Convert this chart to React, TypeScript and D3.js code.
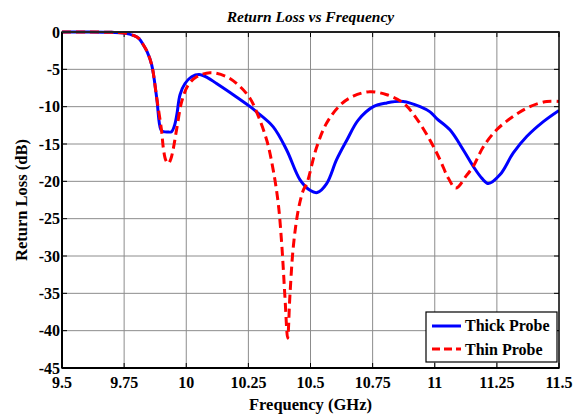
import React from "react";
import * as d3 from "d3";

const xTicks = [9.5, 9.75, 10, 10.25, 10.5, 10.75, 11, 11.25, 11.5];
const yTicks = [0, -5, -10, -15, -20, -25, -30, -35, -40, -45];

const thickFreq = [9.5, 9.6, 9.7, 9.75, 9.79, 9.81, 9.827, 9.842, 9.861, 9.881, 9.898, 9.908, 9.925, 9.941, 9.952, 9.962, 9.975, 9.995, 10.022, 10.052, 10.085, 10.122, 10.189, 10.257, 10.283, 10.35, 10.404, 10.458, 10.498, 10.527, 10.565, 10.605, 10.646, 10.692, 10.753, 10.807, 10.873, 10.941, 10.981, 11.008, 11.061, 11.115, 11.155, 11.19, 11.216, 11.263, 11.316, 11.37, 11.437, 11.5];
const thickDb = [0, 0, -0.05, -0.15, -0.5, -0.9, -1.7, -2.6, -4.4, -8.8, -13.1, -13.35, -13.4, -13.35, -12.6, -11.1, -8.4, -6.9, -6.0, -5.7, -6.1, -6.9, -8.4, -10.0, -10.7, -12.7, -15.8, -19.8, -21.2, -21.5, -20.3, -17.1, -14.5, -11.8, -10.0, -9.5, -9.3, -10.0, -10.7, -11.6, -13.1, -15.8, -18.0, -19.6, -20.3, -19.1, -16.2, -14.0, -12.0, -10.5];

const thinFreq = [9.5, 9.6, 9.7, 9.75, 9.79, 9.81, 9.827, 9.842, 9.861, 9.881, 9.901, 9.908, 9.918, 9.928, 9.938, 9.948, 9.964, 9.982, 10.008, 10.042, 10.096, 10.163, 10.216, 10.257, 10.283, 10.324, 10.35, 10.37, 10.384, 10.397, 10.408, 10.417, 10.431, 10.451, 10.471, 10.485, 10.525, 10.565, 10.619, 10.672, 10.739, 10.807, 10.873, 10.927, 10.981, 11.021, 11.055, 11.085, 11.128, 11.155, 11.195, 11.249, 11.316, 11.383, 11.451, 11.5];
const thinDb = [0, 0, -0.05, -0.15, -0.5, -0.9, -1.7, -2.6, -4.4, -8.8, -13.3, -15.6, -17.2, -17.6, -17.0, -15.6, -12.5, -9.3, -7.1, -6.0, -5.45, -6.0, -7.3, -8.9, -10.7, -14.5, -18.5, -22.9, -28.3, -35.4, -41.0, -35.4, -28.7, -23.8, -21.2, -20.3, -15.4, -12.2, -9.8, -8.6, -8.0, -8.4, -9.5, -11.6, -14.5, -17.1, -19.6, -20.9, -19.2, -18.0, -15.4, -13.1, -11.3, -10.0, -9.3, -9.3];

const W = 579;
const H = 417;
const margin = { left: 62, top: 32, right: 20, bottom: 49 };
const font = "'Liberation Serif', 'Times New Roman', serif";

export default function App() {
  const x = d3.scaleLinear().domain([9.5, 11.5]).range([margin.left, W - margin.right]);
  const y = d3.scaleLinear().domain([-45, 0]).range([H - margin.bottom, margin.top]);
  const line = d3
    .line<[number, number]>()
    .x((d) => x(d[0]))
    .y((d) => y(d[1]))
    .curve(d3.curveCatmullRom.alpha(0.5));
  const thick = line(thickFreq.map((f, i) => [f, thickDb[i]]) as [number, number][]) || "";
  const thin = line(thinFreq.map((f, i) => [f, thinDb[i]]) as [number, number][]) || "";
  const x0 = x(9.5), x1 = x(11.5), y0 = y(-45), y1 = y(0);
  const lgX = 426, lgY = 312, lgW = 131, lgH = 50;

  return (
    <svg width={W} height={H} style={{ position: "absolute", left: 0, top: 0, background: "#fff" }}>
      <rect x={0} y={0} width={W} height={H} fill="#fff" />
      <defs>
        <clipPath id="plot">
          <rect x={x0} y={y1 - 2} width={x1 - x0} height={y0 - y1 + 2} />
        </clipPath>
      </defs>
      {/* grid */}
      {xTicks.slice(1, -1).map((t) => (
        <line key={"gx" + t} x1={x(t)} x2={x(t)} y1={y1} y2={y0} stroke="#8c8c8c" strokeWidth={1} />
      ))}
      {yTicks.slice(1, -1).map((t) => (
        <line key={"gy" + t} x1={x0} x2={x1} y1={y(t)} y2={y(t)} stroke="#8c8c8c" strokeWidth={1} />
      ))}
      {/* ticks */}
      {xTicks.map((t) => (
        <g key={"tx" + t}>
          <line x1={x(t)} x2={x(t)} y1={y0} y2={y0 - 5} stroke="#000" strokeWidth={1} />
          <line x1={x(t)} x2={x(t)} y1={y1} y2={y1 + 5} stroke="#000" strokeWidth={1} />
          <text x={x(t)} y={y0 + 20} textAnchor="middle" fontFamily={font} fontWeight="bold" fontSize={16}>
            {t}
          </text>
        </g>
      ))}
      {yTicks.map((t) => (
        <g key={"ty" + t}>
          <line x1={x0} x2={x0 + 5} y1={y(t)} y2={y(t)} stroke="#000" strokeWidth={1} />
          <line x1={x1} x2={x1 - 5} y1={y(t)} y2={y(t)} stroke="#000" strokeWidth={1} />
          <text x={x0 - 2} y={y(t) + 5.5} textAnchor="end" fontFamily={font} fontWeight="bold" fontSize={16}>
            {t}
          </text>
        </g>
      ))}
      {/* curves */}
      <g clipPath="url(#plot)">
        <path d={thick} fill="none" stroke="#0000ff" strokeWidth={3} strokeLinejoin="round" />
        <path d={thin} fill="none" stroke="#ff0000" strokeWidth={3} strokeDasharray="9,5" />
      </g>
      {/* frame */}
      <rect x={x0} y={y1} width={x1 - x0} height={y0 - y1} fill="none" stroke="#000" strokeWidth={1.5} />
      <line x1={x0} x2={x0} y1={y1} y2={y0} stroke="#000" strokeWidth={2} />
      <line x1={x0} x2={x1} y1={y0} y2={y0} stroke="#000" strokeWidth={2} />
      <line x1={x0} x2={x1} y1={y1} y2={y1} stroke="#222" strokeWidth={2} />
      {/* title */}
      <text x={(x0 + x1) / 2} y={22} textAnchor="middle" fontFamily={font} fontWeight="bold" fontStyle="italic" fontSize={15.5}>
        Return Loss vs Frequency
      </text>
      <text x={(x0 + x1) / 2} y={410} textAnchor="middle" fontFamily={font} fontWeight="bold" fontSize={16.5}>
        Frequency (GHz)
      </text>
      <text
        transform={`translate(27, ${(y0 + y1) / 2}) rotate(-90)`}
        textAnchor="middle"
        fontFamily={font}
        fontWeight="bold"
        fontSize={16.5}
      >
        Return Loss (dB)
      </text>
      {/* legend */}
      <rect x={lgX} y={lgY} width={lgW} height={lgH} fill="#fff" stroke="#000" strokeWidth={1.2} />
      <line x1={lgX + 6} x2={lgX + 35} y1={lgY + 14} y2={lgY + 14} stroke="#0000ff" strokeWidth={3} />
      <line x1={lgX + 6} x2={lgX + 35} y1={lgY + 37} y2={lgY + 37} stroke="#ff0000" strokeWidth={3} strokeDasharray="8,4" />
      <text x={lgX + 39} y={lgY + 19} fontFamily={font} fontWeight="bold" fontSize={16}>
        Thick Probe
      </text>
      <text x={lgX + 39} y={lgY + 43} fontFamily={font} fontWeight="bold" fontSize={16}>
        Thin Probe
      </text>
    </svg>
  );
}
